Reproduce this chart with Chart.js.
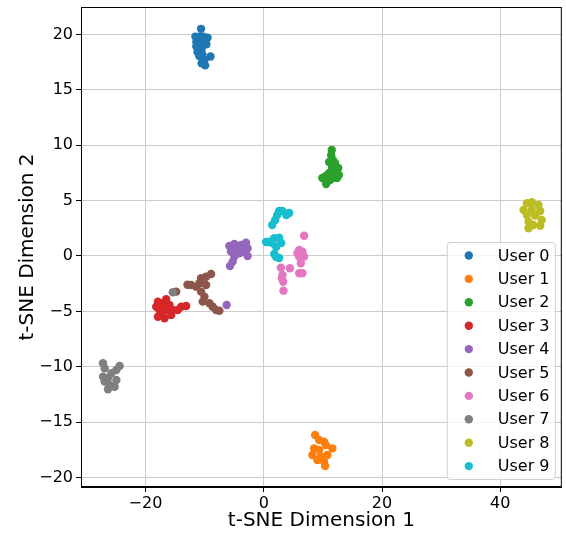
<!DOCTYPE html>
<html><head><meta charset="utf-8">
<script src="https://cdn.jsdelivr.net/npm/chart.js@4/dist/chart.umd.min.js"></script>
<style>html,body{margin:0;padding:0;background:#fff}canvas{display:block}</style>
</head><body>
<canvas id="c" width="566" height="533" style="width:566px;height:533px"></canvas>
<script>
const userLabels = ['User 0','User 1','User 2','User 3','User 4','User 5','User 6','User 7','User 8','User 9'];
const userColors = ['#1f77b4','#ff7f0e','#2ca02c','#d62728','#9467bd','#8c564b','#e377c2','#7f7f7f','#bcbd22','#17becf'];

const user0 = [[-10.6,20.5],[-11.55,19.8],[-10.9,19.8],[-10.2,19.8],[-9.5,19.7],[-11.4,19.3],[-10.4,19.3],[-9.7,19.1],[-11.4,18.9],[-10.5,18.7],[-11.2,18.4],[-10.4,18.2],[-9.0,18.0],[-10.9,18.05],[-10.0,17.7],[-9.9,17.2],[-10.5,17.4]];
const user1 = [[8.68,-16.16],[9.36,-16.61],[10.2,-16.76],[8.52,-17.36],[10.49,-17.06],[11.6,-17.36],[9.36,-17.51],[8.23,-17.96],[9.65,-18.11],[10.76,-17.96],[9.07,-18.41],[10.2,-18.56],[10.37,-18.95]];
const user2 = [[11.5,9.57],[11.4,9.1],[11.7,8.66],[11.05,8.48],[12.05,8.4],[11.55,7.94],[12.2,7.67],[12.7,7.31],[12.4,7.04],[9.9,7.04],[10.5,7.22],[10.55,6.5],[11.2,6.86],[11.7,7.04],[11.05,7.5],[12.6,7.94]];
const user3 = [[-17.9,-4.12],[-16.5,-3.91],[-17.07,-4.27],[-18.18,-4.58],[-15.94,-4.42],[-17.62,-4.87],[-16.49,-4.87],[-15.38,-4.87],[-13.96,-4.58],[-13.12,-4.51],[-14.54,-4.87],[-17.9,-5.48],[-16.78,-5.62],[-15.65,-5.32],[-17.34,-5.17]];
const user4 = [[-5.82,0.9],[-4.97,1.08],[-3.84,0.99],[-3.0,1.2],[-2.73,0.69],[-4.69,0.54],[-5.53,0.39],[-3.58,0.39],[-2.73,0.0],[-4.97,-0.06],[-5.26,-0.51],[-5.7,-0.9],[-4.13,0.24],[0.5,1.25],[-6.27,-4.42]];
const user5 = [[-8.9,-1.62],[-9.75,-1.87],[-10.6,-2.01],[-12.28,-2.62],[-11.43,-2.77],[-10.88,-2.46],[-9.75,-2.62],[-10.6,-3.22],[-10.03,-3.67],[-10.32,-4.12],[-9.19,-4.27],[-8.63,-4.58],[-8.06,-4.87],[-7.5,-4.94],[-14.8,-3.22],[-12.9,-2.6]];
const user6 = [[6.83,1.83],[5.99,0.54],[5.7,0.24],[6.54,0.39],[6.83,-0.06],[5.99,-0.06],[6.27,-0.66],[5.99,-1.56],[6.54,-1.56],[2.9,-1.06],[4.42,-1.11],[3.17,-1.71],[3.29,-2.32],[3.34,-3.13],[3.07,-2.01]];
const user7 = [[-27.18,-9.68],[-26.9,-10.14],[-24.37,-9.93],[-24.92,-10.29],[-25.77,-10.59],[-27.18,-10.89],[-26.34,-11.04],[-24.92,-11.19],[-26.9,-11.34],[-26.05,-11.64],[-26.34,-12.03],[-25.21,-11.8],[-15.38,-3.28]];
const user8 = [[44.49,4.76],[45.33,4.85],[46.46,4.6],[43.93,4.15],[45.33,4.15],[46.75,4.06],[44.49,3.7],[45.9,3.64],[47.0,3.25],[44.77,3.1],[45.6,2.8],[46.75,2.73],[44.77,2.5]];
const user9 = [[3.17,4.06],[4.3,3.88],[2.28,3.7],[1.94,3.25],[1.43,2.8],[3.8,3.7],[2.6,4.06],[0.93,1.29],[1.77,1.6],[2.6,1.65],[2.95,1.17],[2.1,0.81],[1.43,1.17],[0.4,1.26],[1.77,0.18],[2.6,-0.18],[2.1,-0.09]];
const userPoints = [user0,user1,user2,user3,user4,user5,user6,user7,user8,user9];

const xTicks = [-20,0,20,40];
const yTicks = [-20,-15,-10,-5,0,5,10,15,20];
const xTitle = 't-SNE Dimension 1';
const yTitle = 't-SNE Dimension 2';

const FONT = "'DejaVu Sans', sans-serif";
const fmt = v => (v < 0 ? '\u2212' + Math.abs(v) : String(v));

const datasets = userPoints.map((pts, i) => ({
  label: userLabels[i],
  data: pts.map(p => ({x: p[0], y: p[1]})),
  backgroundColor: userColors[i],
  borderColor: userColors[i],
  borderWidth: 0,
  pointRadius: 4.2,
  pointHoverRadius: 4.2,
  order: userPoints.length - 1 - i
}));

const framePlugin = {
  id: 'frame',
  afterDraw(chart) {
    const {ctx, chartArea: a} = chart;
    ctx.save();
    const rowH = 23.4, boxW = 108, boxH = 237;
    const bx = a.right - 7 - boxW, by = a.bottom - 8 - boxH;
    ctx.beginPath();
    if (ctx.roundRect) ctx.roundRect(bx + 0.5, by + 0.5, boxW, boxH, 3); else ctx.rect(bx + 0.5, by + 0.5, boxW, boxH);
    ctx.fillStyle = 'rgba(255,255,255,0.8)';
    ctx.fill();
    ctx.strokeStyle = '#d0d0d0';
    ctx.lineWidth = 1;
    ctx.stroke();
    ctx.font = '16px ' + FONT;
    ctx.textBaseline = 'middle';
    ctx.textAlign = 'left';
    userLabels.forEach((lab, i) => {
      const cy = by + 13.5 + i * rowH;
      ctx.beginPath();
      ctx.arc(bx + 22, cy, 4.2, 0, Math.PI * 2);
      ctx.fillStyle = userColors[i];
      ctx.fill();
      ctx.fillStyle = '#000';
      ctx.fillText(lab, bx + 51, cy + 1);
    });
    ctx.strokeStyle = '#000';
    ctx.lineWidth = 1;
    ctx.strokeRect(a.left + 0.5, a.top + 0.5, a.right - a.left - 1, a.bottom - a.top - 1);
    ctx.restore();
  }
};

new Chart(document.getElementById('c'), {
  type: 'scatter',
  data: { datasets },
  options: {
    responsive: false,
    animation: false,
    devicePixelRatio: 1,
    layout: { padding: { left: 0, right: 3, top: 7, bottom: 0 } },
    plugins: { legend: { display: false }, tooltip: { enabled: false } },
    scales: {
      x: {
        type: 'linear', min: -30.9, max: 50.4,
        afterBuildTicks: s => { s.ticks = xTicks.map(v => ({value: v})); },
        afterFit: s => { s.height = 46; s.paddingLeft = 0; s.paddingRight = 0; },
        grid: { color: '#cccccc', lineWidth: 1, tickColor: '#000', tickLength: 5, drawTicks: true },
        border: { display: true, color: '#000', width: 1 },
        ticks: { color: '#000', font: { family: FONT, size: 16 }, padding: 2, maxRotation: 0, autoSkip: false, callback: v => fmt(v) },
        title: { display: true, text: xTitle, color: '#000', font: { family: FONT, size: 20 }, padding: { top: 0, bottom: 0 } }
      },
      y: {
        type: 'linear', min: -20.85, max: 22.47,
        afterBuildTicks: s => { s.ticks = yTicks.map(v => ({value: v})); },
        afterFit: s => { s.width = 81; s.paddingTop = 0; s.paddingBottom = 0; },
        grid: { color: '#cccccc', lineWidth: 1, tickColor: '#000', tickLength: 5, drawTicks: true },
        border: { display: true, color: '#000', width: 1 },
        ticks: { color: '#000', font: { family: FONT, size: 16 }, padding: 3, autoSkip: false, callback: v => fmt(v) },
        title: { display: true, text: yTitle, color: '#000', font: { family: FONT, size: 20 }, padding: { top: 16, bottom: 0 } }
      }
    }
  },
  plugins: [framePlugin]
});
</script>
</body></html>
